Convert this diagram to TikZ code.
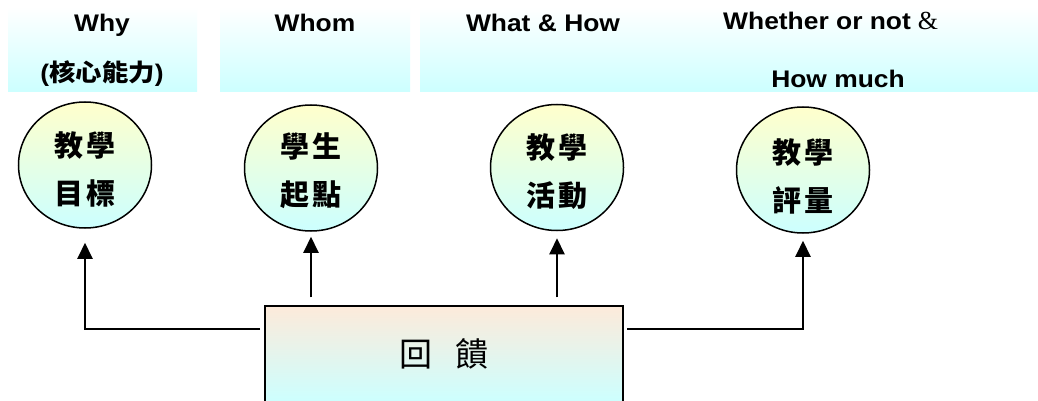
\documentclass[tikz,border=0pt]{standalone}
\usepackage{fontspec}
\setmainfont{Liberation Sans}
\newfontfamily\cjk{Noto Sans CJK TC}
\newfontfamily\serifamp{Liberation Serif}
\usetikzlibrary{shapes.geometric,arrows.meta}
\definecolor{cyanbot}{HTML}{CCFFFF}
\definecolor{yeltop}{HTML}{FFFFCC}
\definecolor{peach}{HTML}{FDEADA}
\begin{document}
\begin{tikzpicture}[x=1pt,y=-1pt,
  band/.style={top color=white,bottom color=cyanbot},
  hdr/.style={anchor=base,inner sep=0pt,font=\fontsize{24}{28}\selectfont\bfseries},
  circ/.style={ellipse,draw=black,line width=1.5pt,minimum width=133pt,minimum height=126pt,inner sep=0pt,top color=yeltop,bottom color=cyanbot},
  ctext/.style={align=center,inner sep=0pt,font=\cjk\bfseries\fontsize{29}{48}\selectfont},
  fbbox/.style={rectangle,draw=black,line width=1.3pt,minimum width=358pt,minimum height=96pt,top color=peach,bottom color=cyanbot,inner sep=0pt,font=\cjk\fontsize{33}{36}\selectfont},
  arr/.style={line width=2pt,-{Triangle[width=15pt,length=16pt]}}
]
\useasboundingbox (0,0) rectangle (1038,401);
\fill[white] (0,0) rectangle (1038,401);

% header bands
\fill[band] (8,7) rectangle (197,92);
\fill[band] (220,7) rectangle (410,92);
\fill[band] (420,7) rectangle (1038,92);

% header texts
\node[hdr] (hwhy) at (102,32) {\scalebox{1.1}[1]{Why}};
\node[hdr] (hcore) at (102,82) {\scalebox{1.1}[1]{({\cjk 核心能力})}};
\node[hdr] (hwhom) at (315,32) {\scalebox{1.1}[1]{Whom}};
\node[hdr] (hwhat) at (543,32) {\scalebox{1.1}[1]{What \& How}};
\node[hdr,anchor=base west] (hwhether) at (723,30) {\scalebox{1.1}[1]{Whether or not}\hspace{7pt}{\serifamp\mdseries\fontsize{26}{28}\selectfont \&}};
\node[hdr] (hmuch) at (838,88) {\scalebox{1.1}[1]{How much}};

% circles
\node[circ] (c1) at (85,165) {};
\node[circ] (c2) at (311,168) {};
\node[circ] (c3) at (557,167.5) {};
\node[circ] (c4) at (803,170) {};
\node[ctext] (t1) at (85,169) {教\kern3pt 學\\目\kern3pt 標};
\node[ctext] (t2) at (311,171) {學\kern3pt 生\\起\kern3pt 點};
\node[ctext] (t3) at (557,171.5) {教\kern3pt 學\\活\kern3pt 動};
\node[ctext] (t4) at (803,176) {教\kern3pt 學\\評\kern3pt 量};

% feedback box
\node[fbbox] (fb) at (444,354) {回\hspace{24pt}饋};

% connectors
\coordinate (j1) at (260,329);
\coordinate (j4) at (627,329);
\draw[arr,shorten >=14pt] (j1) -| (c1.south);
\draw[arr,shorten <=8pt,shorten >=5pt] (c2.south |- fb.north) -- (c2.south);
\draw[arr,shorten <=8pt,shorten >=7pt] (c3.south |- fb.north) -- (c3.south);
\draw[arr,shorten >=7pt] (j4) -| (c4.south);
\end{tikzpicture}
\end{document}
